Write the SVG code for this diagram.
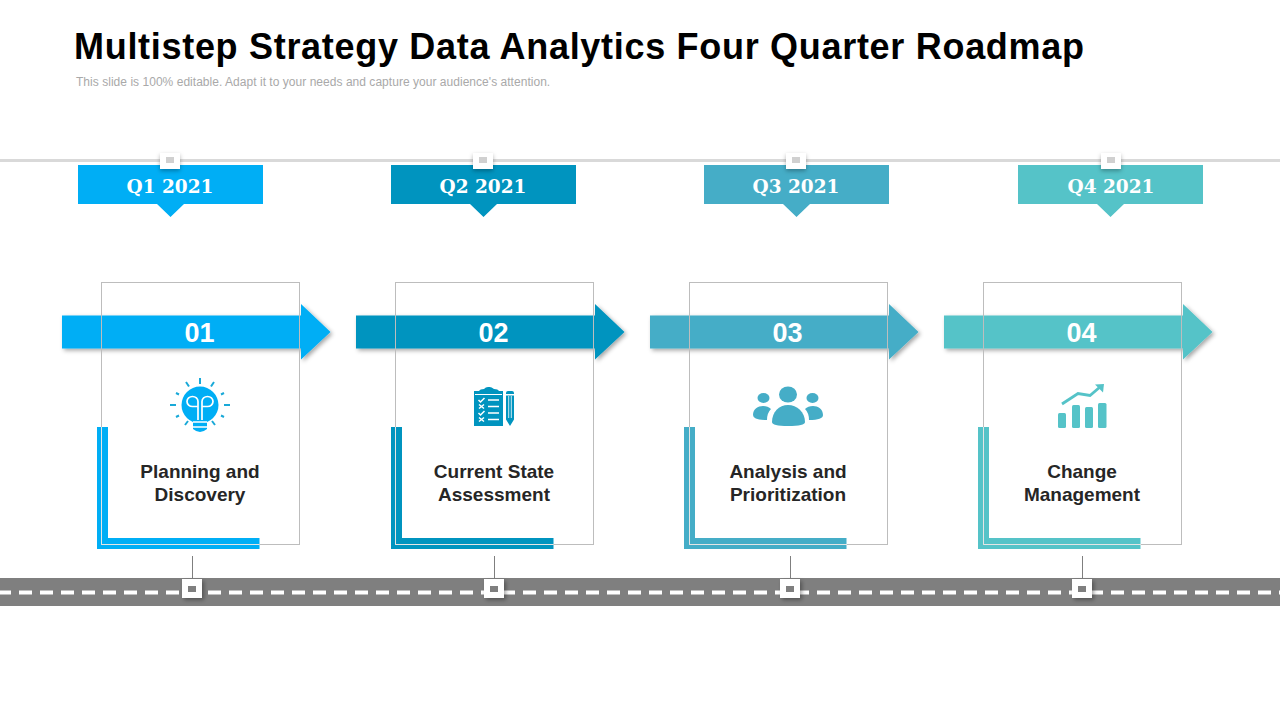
<svg xmlns="http://www.w3.org/2000/svg" width="1280" height="720" viewBox="0 0 1280 720">
<style>
text{font-family:"Liberation Sans",Arial,sans-serif}
.title{font-size:36px;font-weight:700;fill:#000;letter-spacing:.7px}
.sub{font-size:12px;fill:#a9a9a9;letter-spacing:.033px}
.q{font-family:"DejaVu Serif",serif;font-size:18.5px;font-weight:700;fill:#fff;text-anchor:middle}
.num{font-size:27px;font-weight:700;fill:#fff;text-anchor:middle}
.lab{font-size:19px;font-weight:700;fill:#262626;text-anchor:middle}
.card{fill:none;stroke:#bdbdbd;stroke-width:1}
.edge{fill:none;stroke:#fff;stroke-width:1;opacity:.6}
.sq{fill:#fff}
.tick{stroke:#7f7f7f;stroke-width:1}
.c1{fill:#00aef5}.c2{fill:#0094bf}.c3{fill:#45adc7}.c4{fill:#55c3c8}
</style>
<defs>
<filter id="sh" x="-30%" y="-30%" width="170%" height="170%"><feDropShadow dx="2" dy="2" stdDeviation="2" flood-color="#000" flood-opacity=".35"/></filter>
<filter id="sh2" x="-40%" y="-40%" width="180%" height="190%"><feDropShadow dx="0" dy="2" stdDeviation="2" flood-color="#000" flood-opacity=".3"/></filter>
<path id="arrow" d="M0 315.500H239V304L268.500 332L239 359.500V348.500H0Z"/>
<path id="ell" d="M0 427H11V538H162.500V549H0Z"/>
<path id="hdr" d="M0 165H185V204H106L92.500 217L79 204H0Z"/>
</defs>

<rect width="1280" height="720" fill="#fff"/>
<text class="title" x="74" y="59">Multistep Strategy Data Analytics Four Quarter Roadmap</text>
<text class="sub" x="76" y="86">This slide is 100% editable. Adapt it to your needs and capture your audience's attention.</text>

<rect id="top-line" x="0" y="159" width="1280" height="3" fill="#d9d9d9"/>
<rect id="road" x="0" y="578" width="1280" height="28" fill="#7f7f7f"/>
<line id="road-dash" x1="-2" y1="592.500" x2="1280" y2="592.500" stroke="#fff" stroke-width="4" stroke-dasharray="13 8"/>

<g id="connectors">
<line class="tick" x1="192.500" y1="556" x2="192.500" y2="580"/>
<line class="tick" x1="494.500" y1="556" x2="494.500" y2="580"/>
<line class="tick" x1="790.500" y1="556" x2="790.500" y2="580"/>
<line class="tick" x1="1082.500" y1="556" x2="1082.500" y2="580"/>
</g>

<g id="q1">
<use href="#hdr" x="78" class="c1"/>
<rect class="sq" x="160" y="153" width="20" height="16" filter="url(#sh2)"/><rect x="166" y="157" width="8" height="6" fill="#d0d0d0"/>
<text class="q" x="170" y="192.500">Q1 2021</text>
</g>
<g id="q2">
<use href="#hdr" x="391" class="c2"/>
<rect class="sq" x="473" y="153" width="20" height="16" filter="url(#sh2)"/><rect x="479" y="157" width="8" height="6" fill="#d0d0d0"/>
<text class="q" x="483" y="192.500">Q2 2021</text>
</g>
<g id="q3">
<use href="#hdr" x="704" class="c3"/>
<rect class="sq" x="786" y="153" width="20" height="16" filter="url(#sh2)"/><rect x="792" y="157" width="8" height="6" fill="#d0d0d0"/>
<text class="q" x="796" y="192.500">Q3 2021</text>
</g>
<g id="q4">
<use href="#hdr" x="1018" class="c4"/>
<rect class="sq" x="1101" y="153" width="20" height="16" filter="url(#sh2)"/><rect x="1107" y="157" width="8" height="6" fill="#d0d0d0"/>
<text class="q" x="1111" y="192.500">Q4 2021</text>
</g>

<g id="step1">
<use href="#arrow" x="62" class="c1" filter="url(#sh)"/>
<use href="#ell" x="97" class="c1"/>
<rect class="card" x="101.500" y="282.500" width="198" height="262"/>
<path class="edge" d="M101.500 427V544.500H259.500"/>
<text class="num" x="199.500" y="342">01</text>
<g id="icon1" transform="translate(200 405)">
<circle cx="0" cy="0" r="18.500" class="c1"/>
<path d="M-7 13H7V24Q0 30 -7 24Z" class="c1"/>
<path d="M-2 15V-3.500A5.500 5 0 1 0 -7.500 1.500H-2M2 15V-3.500A5.500 5 0 1 1 7.500 1.500H2M-7 17H7M-7 22H7" fill="none" stroke="#fff" stroke-width="1.700"/>
<path d="M0 -27V-21M-14 -23L-11 -18.500M14 -23L11 -18.500M-24 -12L-21 -10.500M24 -12L21 -10.500M-30 0H-24M30 0H24M-24 12L-21 10.500M24 12L21 10.500M-15 20L-12 16M15 20L12 16" fill="none" stroke="#19a9d8" stroke-width="2"/>
</g>
<text class="lab" x="200" y="477.500">Planning and</text>
<text class="lab" x="200" y="500.500">Discovery</text>
</g>

<g id="step2">
<use href="#arrow" x="356" class="c2" filter="url(#sh)"/>
<use href="#ell" x="391" class="c2"/>
<rect class="card" x="395.500" y="282.500" width="198" height="262"/>
<path class="edge" d="M395.500 427V544.500H553.500"/>
<text class="num" x="493.500" y="342">02</text>
<g id="icon2">
<path class="c2" d="M474 391H479Q480 389 484 389Q486 386.500 489 387Q491 386.500 494 389Q498 389 499 391H503V426H474Z"/>
<path d="M475 394.500H502" fill="none" stroke="#fff" stroke-width="1"/>
<path d="M488 400H499M488 406.500H499M488 413H499M488 419.500H499" fill="none" stroke="#fff" stroke-width="1.500"/>
<path d="M478.500 400L480.500 402L484.500 398M479 404.500L484 408.500M484 404.500L479 408.500M478.500 413L480.500 415L484.500 411M479 417.500L484 421.500M484 417.500L479 421.500" fill="none" stroke="#fff" stroke-width="1.500"/>
<path class="c2" d="M506 393Q506 391 508 391H512Q514 391 514 393V394H506ZM506 395.500H514V419.500L510 426L506 419.500Z"/>
<path d="M508.700 396V418M511.300 396V418" stroke="#fff" stroke-width=".8" fill="none"/>
</g>
<text class="lab" x="494" y="477.500">Current State</text>
<text class="lab" x="494" y="500.500">Assessment</text>
</g>

<g id="step3">
<use href="#arrow" x="650" class="c3" filter="url(#sh)"/>
<use href="#ell" x="684" class="c3"/>
<rect class="card" x="689.500" y="282.500" width="198" height="262"/>
<path class="edge" d="M689.500 427V544.500H847"/>
<text class="num" x="787.500" y="342">03</text>
<g id="icon3" class="c3">
<ellipse cx="788" cy="394.500" rx="9" ry="8"/>
<path d="M772 422C772 412 779 405 788 405C797 405 805 412 805 422Q805 426 788 426Q772 426 772 422Z"/>
<ellipse cx="763.500" cy="398" rx="6" ry="5"/>
<path d="M753 415C753 409 758 406 763 406Q768 406 771 409Q767 413 767 420Q753 420 753 415Z"/>
<ellipse cx="812.500" cy="398" rx="6" ry="5"/>
<path d="M823 415C823 409 818 406 813 406Q808 406 805 409Q809 413 809 420Q823 420 823 415Z"/>
</g>
<text class="lab" x="788" y="477.500">Analysis and</text>
<text class="lab" x="788" y="500.500">Prioritization</text>
</g>

<g id="step4">
<use href="#arrow" x="944" class="c4" filter="url(#sh)"/>
<use href="#ell" x="978" class="c4"/>
<rect class="card" x="983.500" y="282.500" width="198" height="262"/>
<path class="edge" d="M983.500 427V544.500H1141"/>
<text class="num" x="1081.500" y="342">04</text>
<g id="icon4">
<rect class="c4" x="1058" y="413" width="8" height="15" rx="1.500"/>
<rect class="c4" x="1072" y="405" width="8" height="23" rx="1.500"/>
<rect class="c4" x="1085" y="407" width="8" height="21" rx="1.500"/>
<rect class="c4" x="1098" y="403" width="8.500" height="25" rx="1.500"/>
<path d="M1062 404L1078 393.500L1090 395.500L1100 387" fill="none" stroke="#55c3c8" stroke-width="2.800"/>
<path class="c4" d="M1095 384.500L1104 384L1103 392.500Z"/>
</g>
<text class="lab" x="1082" y="477.500">Change</text>
<text class="lab" x="1082" y="500.500">Management</text>
</g>

<g id="markers">
<rect class="sq" x="182" y="579" width="20" height="19" filter="url(#sh)"/><rect x="188" y="586" width="8" height="6" fill="#7f7f7f"/>
<rect class="sq" x="484" y="579" width="20" height="19" filter="url(#sh)"/><rect x="490" y="586" width="8" height="6" fill="#7f7f7f"/>
<rect class="sq" x="780" y="579" width="20" height="19" filter="url(#sh)"/><rect x="786" y="586" width="8" height="6" fill="#7f7f7f"/>
<rect class="sq" x="1072" y="579" width="20" height="19" filter="url(#sh)"/><rect x="1078" y="586" width="8" height="6" fill="#7f7f7f"/>
</g>
</svg>
